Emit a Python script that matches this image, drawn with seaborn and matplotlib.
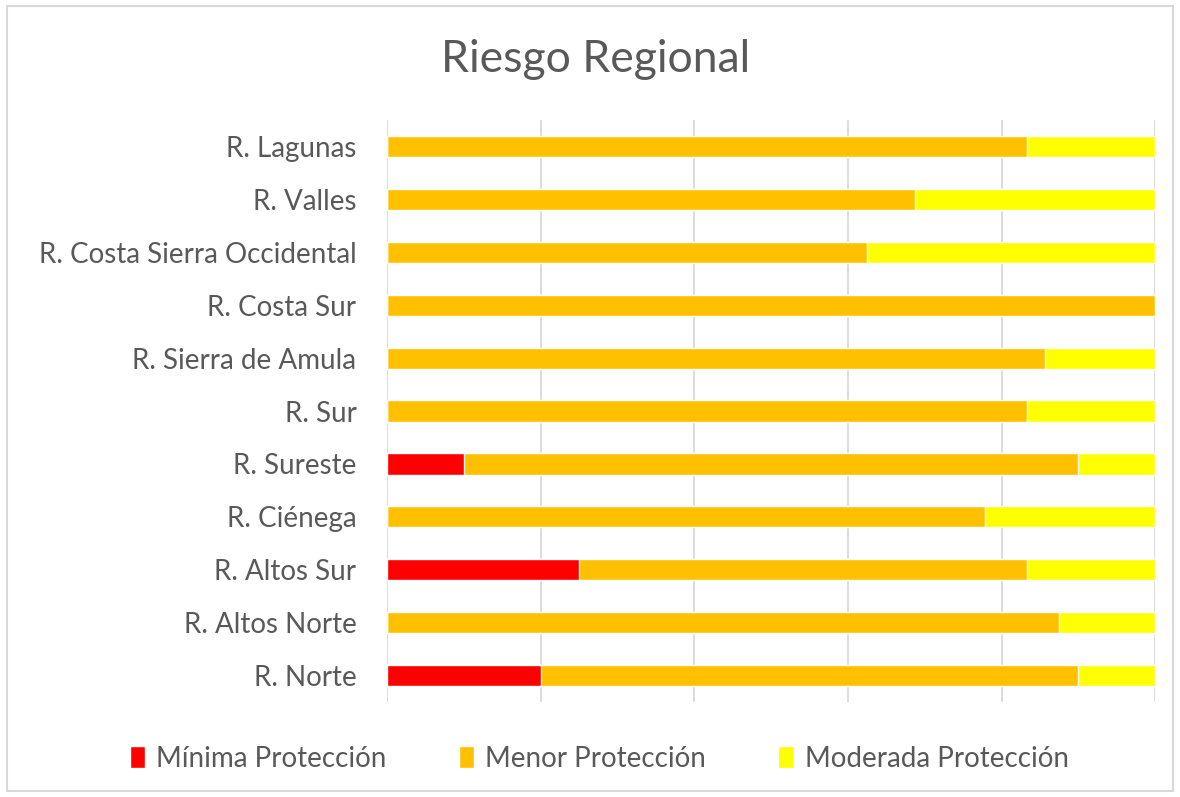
import pandas as pd
import matplotlib.pyplot as plt
import seaborn as sns
from matplotlib.patches import Rectangle, Patch

# Datos (porcentaje por región)
regiones = ["R. Lagunas", "R. Valles", "R. Costa Sierra Occidental", "R. Costa Sur",
            "R. Sierra de Amula", "R. Sur", "R. Sureste", "R. Ciénega",
            "R. Altos Sur", "R. Altos Norte", "R. Norte"]
minima = [0, 0, 0, 0, 0, 0, 10, 0, 25, 0, 20]
menor = [83.3, 68.75, 62.5, 100, 85.7, 83.3, 80, 77.8, 58.3, 87.5, 70]
moderada = [16.7, 31.25, 37.5, 0, 14.3, 16.7, 10, 22.2, 16.7, 12.5, 10]

colores = {"Mínima Protección": "#FF0000", "Menor Protección": "#FFC000",
           "Moderada Protección": "#FFFF00"}

df = pd.DataFrame({"region": regiones, "minima": minima, "menor": menor, "moderada": moderada})
df["c1"] = df["minima"]
df["c2"] = df["minima"] + df["menor"]
df["c3"] = df["c2"] + df["moderada"]

sns.set_style("white")
plt.rcParams["font.family"] = ["Lato", "DejaVu Sans"]

fig = plt.figure(figsize=(11.8, 7.97), dpi=100)
ax = fig.add_axes([0.328, 0.1192, 0.651, 0.7302])

# Barras apiladas: se dibujan acumuladas de mayor a menor
for col, color in zip(["c3", "c2", "c1"], list(colores.values())[::-1]):
    sns.barplot(data=df, x=col, y="region", order=regiones, color=color,
                width=0.4, saturation=1, ax=ax, orient="y")

ax.set_xlim(0, 100)
ax.set_ylim(len(regiones) - 0.5, -0.5)
ax.set_xticks([0, 20, 40, 60, 80, 100])
ax.set_xticklabels([])
ax.grid(axis="x", color="#D9D9D9", linewidth=1.3)
ax.set_axisbelow(True)
for s in ax.spines.values():
    s.set_visible(False)
ax.set_xlabel("")
ax.set_ylabel("")
ax.tick_params(axis="y", length=0, labelsize=20, labelcolor="#595959", pad=22)
ax.tick_params(axis="x", length=0)

fig.text(0.505, 0.925, "Riesgo Regional", ha="center", va="center",
         fontsize=32, color="#595959")

handles = [Patch(facecolor=c, label=k) for k, c in colores.items()]
fig.legend(handles=handles, loc="center", bbox_to_anchor=(0.508, 0.048), ncol=3,
           frameon=False, fontsize=20, labelcolor="#595959", handlelength=0.55,
           handleheight=0.8, handletextpad=0.4, columnspacing=2.6)

fig.patches.append(Rectangle((0.006, 0.008), 0.988, 0.984, transform=fig.transFigure,
                             fill=False, edgecolor="#D9D9D9", linewidth=1.5))

fig.savefig("out.png", dpi=100)
